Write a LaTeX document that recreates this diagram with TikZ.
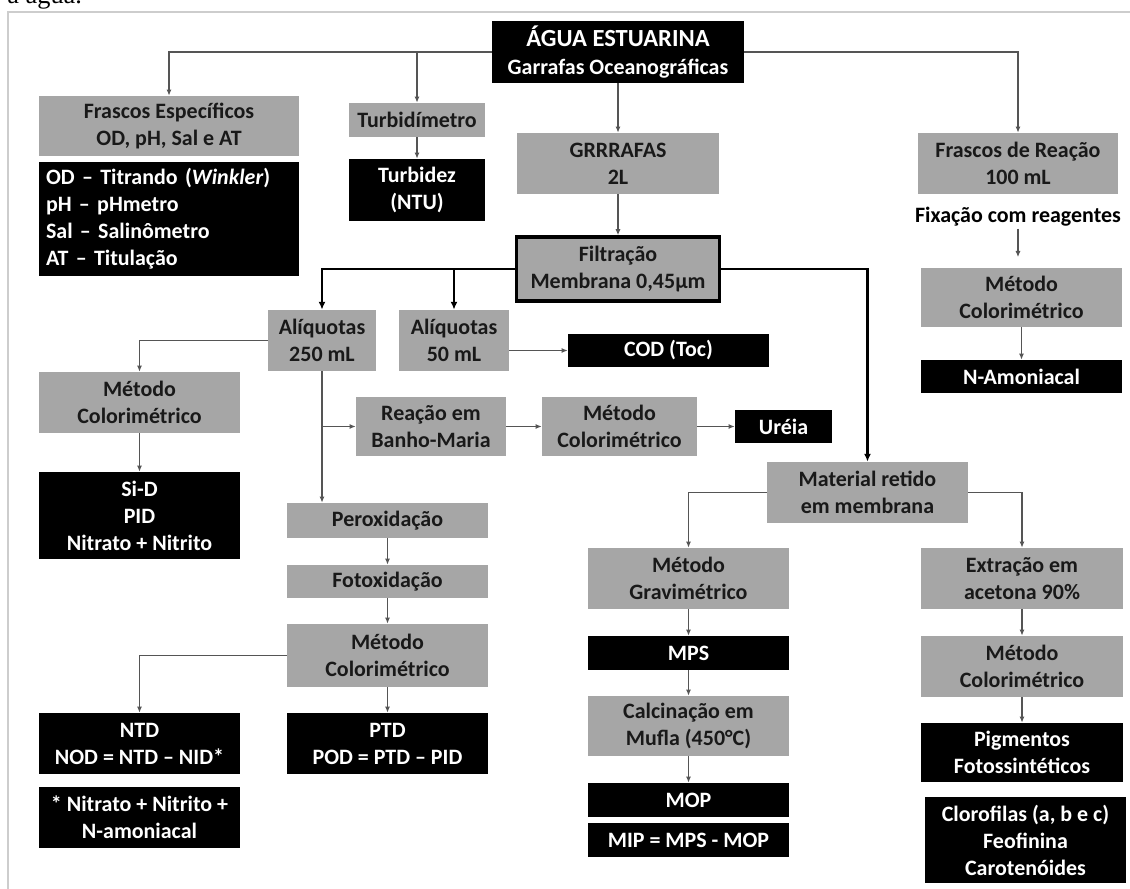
\documentclass[tikz,border=0pt]{standalone}
\usepackage{fontspec}
\setmainfont{Carlito}
\newfontfamily\captionfont{Liberation Serif}
\usetikzlibrary{arrows.meta}
\definecolor{boxgrey}{RGB}{166,166,166}
\definecolor{linegrey}{RGB}{85,85,85}
\definecolor{framegrey}{RGB}{205,205,205}

\tikzset{
  greybox/.style={fill=boxgrey, text=black!90, align=center, inner sep=0pt,
    font=\fontsize{12.5}{15.4}\selectfont\bfseries,
    minimum width=4.02cm, minimum height=1.22cm},
  blackbox/.style={greybox, fill=black, text=white},
  conn/.style={draw=linegrey, line width=0.7pt, -{Latex[length=3.5pt,width=3pt]}},
  mainconn/.style={draw=black, line width=1.3pt, -{Latex[length=4.5pt,width=4pt]}}
}

\begin{document}
\begin{tikzpicture}[x=0.02cm, y=-0.02cm]
      \useasboundingbox (0,0) rectangle (1130,889);
      \draw[framegrey, line width=1pt] (8,895) -- (8,12) -- (1135,12);
      \node[anchor=base west, inner sep=0pt, font=\captionfont\fontsize{15}{15}\selectfont]
        (legenda) at (7,4) {a água.};

      % coluna central
      \node[blackbox, minimum width=5.04cm, minimum height=1.24cm] (agua) at (618,52)
        {{\fontsize{14}{17}\selectfont ÁGUA ESTUARINA}\\[1pt] Garrafas Oceanográficas};
      \node[greybox, minimum width=4.04cm] (garrafas) at (618,163.5) {GRRRAFAS\\2L};
      \node[greybox, draw=black, line width=2pt, minimum width=4.06cm, minimum height=1.28cm]
        (filtracao) at (618,269) {Filtração\\Membrana 0,45µm};

      % frascos e turbidez
      \node[greybox, minimum width=5.2cm, minimum height=1.2cm] (frascos) at (169,126)
        {Frascos Específicos\\OD, pH, Sal e AT};
      \node[blackbox, align=left, inner xsep=0.14cm, text width=4.92cm, minimum height=2.28cm]
        (parametros) at (169,219)
        {OD -- Titrando (\textit{Winkler})\\pH -- pHmetro\\Sal -- Salinômetro\\AT -- Titulação};
      \node[greybox, minimum width=2.74cm, minimum height=0.68cm] (turbidimetro) at (417,120)
        {Turbidímetro};
      \node[blackbox, minimum width=2.72cm, minimum height=1.24cm] (turbidez) at (417,190)
        {Turbidez\\(NTU)};

      % frascos de reacao
      \node[greybox] (reacao) at (1018,163.5) {Frascos de Reação\\100 mL};
      \node[font=\fontsize{12.5}{15.4}\selectfont\bfseries, inner sep=1pt] (fixacao) at (1018,217)
        {Fixação com reagentes};
      \node[greybox, minimum height=1.18cm] (colorA) at (1021.5,297.5) {Método\\Colorimétrico};
      \node[blackbox, minimum height=0.66cm] (amoniacal) at (1021.5,376.5) {N-Amoniacal};

      % aliquotas
      \node[greybox, minimum width=2.16cm] (aliq250) at (322,340.5) {Alíquotas\\250 mL};
      \node[greybox, minimum width=2.2cm] (aliq50) at (454,340.5) {Alíquotas\\50 mL};
      \node[blackbox, minimum height=0.68cm] (cod) at (668.5,350.5) {COD (Toc)};
      \node[greybox] (colorB) at (139.5,402.5) {Método\\Colorimétrico};
      \node[blackbox, minimum height=1.74cm] (sid) at (139.5,515.5) {Si-D\\PID\\Nitrato + Nitrito};
      \node[greybox, minimum width=3cm, minimum height=1.18cm] (banho) at (431,426.5)
        {Reação em\\Banho-Maria};
      \node[greybox, minimum width=3.1cm, minimum height=1.18cm] (colorC) at (619.5,426.5)
        {Método\\Colorimétrico};
      \node[blackbox, minimum width=1.94cm, minimum height=0.66cm] (ureia) at (783.5,426.5) {Uréia};
      \node[greybox, minimum height=0.7cm] (peroxid) at (387.5,520.5) {Peroxidação};
      \node[greybox, minimum height=0.66cm] (fotoxid) at (387.5,581.5) {Fotoxidação};
      \node[greybox, minimum height=1.26cm] (colorD) at (387.5,655.5) {Método\\Colorimétrico};
      \node[blackbox] (ntd) at (139.5,743.5) {NTD\\NOD = NTD -- NID*};
      \node[blackbox] (nid) at (139.5,817.5) {* Nitrato + Nitrito +\\N-amoniacal};
      \node[blackbox] (ptd) at (387.5,743.5) {PTD\\POD = PTD -- PID};

      % material retido
      \node[greybox] (material) at (867.5,492.5) {Material retido\\em membrana};
      \node[greybox] (gravim) at (688.5,578.5) {Método\\Gravimétrico};
      \node[blackbox, minimum width=4.04cm, minimum height=0.68cm] (mps) at (688.5,653) {MPS};
      \node[greybox, minimum height=1.2cm] (calcin) at (688.5,726) {Calcinação em\\Mufla (450°C)};
      \node[blackbox, minimum height=0.68cm] (mop) at (688.5,800) {MOP};
      \node[blackbox, minimum height=0.68cm] (mip) at (688.5,840) {MIP = MPS - MOP};
      \node[greybox, minimum width=4.04cm] (extracao) at (1022,578.5) {Extração em\\acetona 90\%};
      \node[greybox, minimum width=4.04cm] (colorE) at (1022,666.5) {Método\\Colorimétrico};
      \node[blackbox, minimum width=4.04cm, minimum height=1.18cm] (pigm) at (1022,752.5)
        {Pigmentos\\Fotossintéticos};
      \node[blackbox, minimum height=1.72cm] (cloro) at (1025.5,840)
        {Clorofilas (a, b e c)\\Feofinina\\Carotenóides};

      % ligacoes
      \draw[conn] (agua.west) -| (frascos.north);
      \draw[conn] (agua.west -| turbidimetro.north) -- (turbidimetro.north);
      \draw[conn] (turbidimetro.south) -- (turbidez.north);
      \draw[conn] (agua.east) -| (reacao.north);
      \draw[conn] (agua.south) -- (garrafas.north);
      \draw[conn] (garrafas.south) -- (filtracao.north);
      \draw[conn, shorten >=6pt] (fixacao.south) -- (fixacao.south |- colorA.north);
      \draw[conn] (colorA.south) -- (amoniacal.north);
      \draw[mainconn] (filtracao.west) -| (aliq250.north);
      \draw[mainconn] (filtracao.west -| aliq50.north) -- (aliq50.north);
      \draw[mainconn] (filtracao.east) -| (material.north);
      \draw[conn] (aliq50.east |- cod.west) -- (cod.west);
      \draw[conn] (aliq250.west) -| (colorB.north);
      \draw[conn] (colorB.south) -- (sid.north);
      \draw[conn] (aliq250.south) -- (aliq250.south |- peroxid.north);
      \draw[conn] (aliq250.south |- banho.west) -- (banho.west);
      \draw[conn] (banho.east) -- (colorC.west);
      \draw[conn] (colorC.east) -- (ureia.west);
      \draw[conn] (peroxid.south) -- (fotoxid.north);
      \draw[conn] (fotoxid.south) -- (colorD.north);
      \draw[conn] (colorD.west) -| (ntd.north);
      \draw[conn] (colorD.south) -- (ptd.north);
      \draw[conn] (material.west) -| (gravim.north);
      \draw[conn] (material.east) -| (extracao.north);
      \draw[conn] (gravim.south) -- (mps.north);
      \draw[conn] (mps.south) -- (calcin.north);
      \draw[conn] (calcin.south) -- (mop.north);
      \draw[conn] (extracao.south) -- (colorE.north);
      \draw[conn] (colorE.south) -- (pigm.north);
    \end{tikzpicture}
\end{document}
